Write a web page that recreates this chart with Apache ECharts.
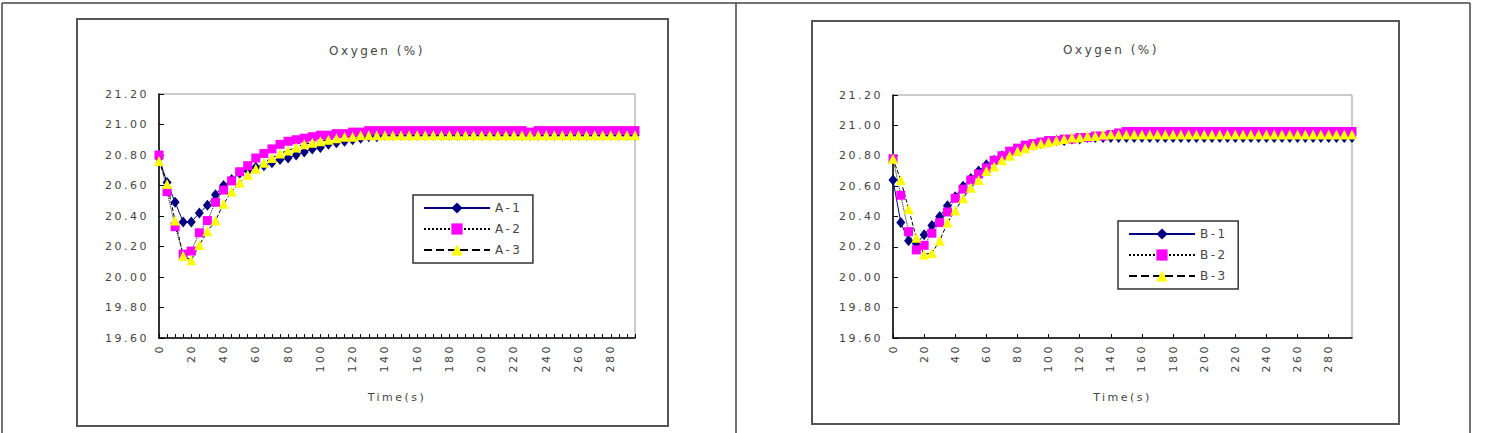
<!DOCTYPE html>
<html>
<head>
<meta charset="utf-8">
<title>Oxygen (%)</title>
<script src="https://cdn.jsdelivr.net/npm/echarts@6/dist/echarts.min.js"></script>
<style>
  html, body { margin: 0; padding: 0; background: #fff; }
  #chart { width: 1495px; height: 433px; }
  /* the original labels are wide-spaced */
  #chart text { letter-spacing: 2.5px; }
</style>
</head>
<body>
<div id="chart"></div>
<script>
// time (s)
var times = [0, 5, 10, 15, 20, 25, 30, 35, 40, 45, 50, 55, 60, 65, 70, 75, 80, 85, 90, 95,
  100, 105, 110, 115, 120, 125, 130, 135, 140, 145, 150, 155, 160, 165, 170, 175, 180, 185, 190, 195,
  200, 205, 210, 215, 220, 225, 230, 235, 240, 245, 250, 255, 260, 265, 270, 275, 280, 285, 290, 295];

var a1 = [20.78, 20.62, 20.49, 20.36, 20.36, 20.42, 20.47, 20.54, 20.60, 20.64,
  20.68, 20.70, 20.72, 20.73, 20.75, 20.77, 20.78, 20.80, 20.82, 20.84,
  20.85, 20.87, 20.88, 20.89, 20.90, 20.91, 20.92, 20.92, 20.93, 20.93,
  20.93, 20.93, 20.93, 20.93, 20.93, 20.93, 20.93, 20.93, 20.93, 20.93,
  20.93, 20.93, 20.93, 20.93, 20.93, 20.93, 20.93, 20.93, 20.93, 20.93,
  20.93, 20.93, 20.93, 20.93, 20.93, 20.93, 20.93, 20.93, 20.93, 20.93];
var a2 = [20.80, 20.56, 20.33, 20.15, 20.17, 20.29, 20.37, 20.49, 20.57, 20.63,
  20.69, 20.73, 20.78, 20.81, 20.84, 20.87, 20.89, 20.90, 20.91, 20.92,
  20.93, 20.93, 20.94, 20.94, 20.95, 20.95, 20.96, 20.96, 20.96, 20.96,
  20.96, 20.96, 20.96, 20.96, 20.96, 20.96, 20.96, 20.96, 20.96, 20.96,
  20.96, 20.96, 20.96, 20.96, 20.96, 20.96, 20.95, 20.96, 20.96, 20.96,
  20.96, 20.96, 20.96, 20.96, 20.96, 20.96, 20.96, 20.96, 20.96, 20.96];
var a3 = [20.76, 20.61, 20.37, 20.14, 20.11, 20.21, 20.30, 20.37, 20.48, 20.56,
  20.62, 20.67, 20.71, 20.75, 20.78, 20.81, 20.83, 20.85, 20.87, 20.88,
  20.89, 20.90, 20.91, 20.92, 20.92, 20.93, 20.93, 20.93, 20.93, 20.93,
  20.93, 20.93, 20.93, 20.93, 20.93, 20.93, 20.93, 20.93, 20.93, 20.93,
  20.93, 20.93, 20.93, 20.93, 20.93, 20.93, 20.93, 20.93, 20.93, 20.93,
  20.93, 20.93, 20.93, 20.93, 20.93, 20.93, 20.93, 20.93, 20.93, 20.93];

var b1 = [20.64, 20.36, 20.24, 20.22, 20.28, 20.34, 20.40, 20.47, 20.53, 20.60,
  20.65, 20.70, 20.74, 20.77, 20.80, 20.82, 20.84, 20.86, 20.87, 20.88,
  20.89, 20.90, 20.90, 20.91, 20.91, 20.92, 20.92, 20.92, 20.92, 20.92,
  20.92, 20.92, 20.92, 20.92, 20.92, 20.92, 20.92, 20.92, 20.92, 20.92,
  20.92, 20.92, 20.92, 20.92, 20.92, 20.92, 20.92, 20.92, 20.92, 20.92,
  20.92, 20.92, 20.92, 20.92, 20.92, 20.92, 20.92, 20.92, 20.92, 20.92];
var b2 = [20.78, 20.54, 20.30, 20.18, 20.21, 20.29, 20.36, 20.43, 20.52, 20.58,
  20.64, 20.68, 20.72, 20.77, 20.80, 20.83, 20.85, 20.87, 20.88, 20.89,
  20.90, 20.90, 20.91, 20.91, 20.92, 20.92, 20.93, 20.93, 20.94, 20.95,
  20.96, 20.96, 20.96, 20.96, 20.96, 20.96, 20.96, 20.96, 20.96, 20.96,
  20.96, 20.96, 20.96, 20.96, 20.96, 20.96, 20.96, 20.96, 20.96, 20.96,
  20.96, 20.96, 20.96, 20.96, 20.96, 20.96, 20.96, 20.96, 20.96, 20.96];
var b3 = [20.78, 20.64, 20.45, 20.26, 20.15, 20.16, 20.24, 20.36, 20.44, 20.52,
  20.59, 20.64, 20.70, 20.73, 20.77, 20.80, 20.83, 20.85, 20.87, 20.88,
  20.89, 20.90, 20.91, 20.92, 20.92, 20.93, 20.93, 20.94, 20.94, 20.94,
  20.94, 20.94, 20.94, 20.94, 20.94, 20.94, 20.94, 20.94, 20.94, 20.94,
  20.94, 20.94, 20.94, 20.94, 20.94, 20.94, 20.94, 20.94, 20.94, 20.94,
  20.94, 20.94, 20.94, 20.94, 20.94, 20.94, 20.94, 20.94, 20.94, 20.94];

var titleText = "Oxygen (%)";
var xName = "Time(s)";
var namesA = ["A-1", "A-2", "A-3"];
var namesB = ["B-1", "B-2", "B-3"];

var font = "DejaVu Sans";
var textColor = "#444";

function makeX(gridIndex, tickEvery) {
  return {
    gridIndex: gridIndex,
    type: "category",
    data: times,
    boundaryGap: false,
    name: xName,
    nameLocation: "middle",
    nameGap: 54,
    nameTextStyle: { color: textColor, fontFamily: font, fontSize: 11 },
    axisLine: { lineStyle: { color: "#000", width: 1.5 } },
    axisTick: { show: true, inside: true, length: 4, interval: tickEvery, lineStyle: { color: "#000" } },
    axisLabel: {
      interval: 3,
      rotate: 90,
      margin: 6,
      color: textColor,
      fontFamily: font,
      fontSize: 11
    },
    splitLine: { show: false }
  };
}

function makeY(gridIndex) {
  return {
    gridIndex: gridIndex,
    type: "value",
    min: 19.6,
    max: 21.2,
    interval: 0.2,
    axisLine: { show: true, lineStyle: { color: "#000", width: 1.5 } },
    axisTick: { show: true, inside: true, length: 5, lineStyle: { color: "#000" } },
    axisLabel: {
      margin: 10,
      color: textColor,
      fontFamily: font,
      fontSize: 11,
      formatter: function (v) { return v.toFixed(2); }
    },
    splitLine: { show: false }
  };
}

function makeSeries(names, data, axisIdx) {
  var looks = [
    { symbol: "diamond", size: [9, 11], color: "#000080", line: "#000080", type: "solid" },
    { symbol: "rect", size: 9, color: "#ff00ff", line: "#000", type: "dotted" },
    { symbol: "triangle", size: 10, color: "#ffff00", line: "#000", type: "dashed" }
  ];
  return names.map(function (n, i) {
    return {
      name: n,
      type: "line",
      xAxisIndex: axisIdx,
      yAxisIndex: axisIdx,
      data: data[i],
      symbol: looks[i].symbol,
      symbolSize: looks[i].size,
      showAllSymbol: true,
      itemStyle: { color: looks[i].color, borderWidth: 0 },
      lineStyle: { color: looks[i].line, width: 1, type: looks[i].type },
      emphasis: { disabled: true },
      animation: false
    };
  });
}

function makeLegend(names, left, top) {
  return {
    data: names,
    orient: "vertical",
    left: left,
    top: top,
    padding: [7, 18, 7, 10],
    itemWidth: 66,
    itemHeight: 14,
    itemGap: 9,
    borderColor: "#333",
    borderWidth: 1.5,
    backgroundColor: "#fff",
    textStyle: { color: textColor, fontFamily: font, fontSize: 12 }
  };
}

var chart = echarts.init(document.getElementById("chart"), null, { renderer: "svg" });

chart.setOption({
  animation: false,
  backgroundColor: "#fff",
  title: [
    { text: titleText, left: 372, top: 40, textAlign: "center",
      textStyle: { color: textColor, fontFamily: font, fontSize: 12, fontWeight: "normal" } },
    { text: titleText, left: 1106, top: 39, textAlign: "center",
      textStyle: { color: textColor, fontFamily: font, fontSize: 12, fontWeight: "normal" } }
  ],
  legend: [
    makeLegend(namesA, 413, 195),
    makeLegend(namesB, 1118, 221)
  ],
  grid: [
    { left: 159, top: 94, right: 860, bottom: 95, show: true, borderColor: "#999", borderWidth: 1, backgroundColor: "#fff" },
    { left: 893, top: 95, right: 143, bottom: 95, show: true, borderColor: "#999", borderWidth: 1, backgroundColor: "#fff" }
  ],
  xAxis: [makeX(0, 0), makeX(1, 3)],
  yAxis: [makeY(0), makeY(1)],
  series: makeSeries(namesA, [a1, a2, a3], 0).concat(makeSeries(namesB, [b1, b2, b3], 1)),
  graphic: [
    // outer table lines
    { type: "line", shape: { x1: 2, y1: 3, x2: 1470, y2: 3 }, style: { stroke: "#444", lineWidth: 1.5 }, z: -10 },
    { type: "line", shape: { x1: 2, y1: 3, x2: 2, y2: 433 }, style: { stroke: "#444", lineWidth: 1.5 }, z: -10 },
    { type: "line", shape: { x1: 736, y1: 3, x2: 736, y2: 433 }, style: { stroke: "#444", lineWidth: 1.5 }, z: -10 },
    { type: "line", shape: { x1: 1470, y1: 3, x2: 1470, y2: 433 }, style: { stroke: "#444", lineWidth: 1.5 }, z: -10 },
    // chart boxes
    { type: "rect", shape: { x: 77, y: 19, width: 591, height: 407 }, style: { fill: "none", stroke: "#555", lineWidth: 2 }, z: -10 },
    { type: "rect", shape: { x: 812, y: 21, width: 587, height: 403 }, style: { fill: "none", stroke: "#555", lineWidth: 2 }, z: -10 }
  ]
});
</script>
</body>
</html>
